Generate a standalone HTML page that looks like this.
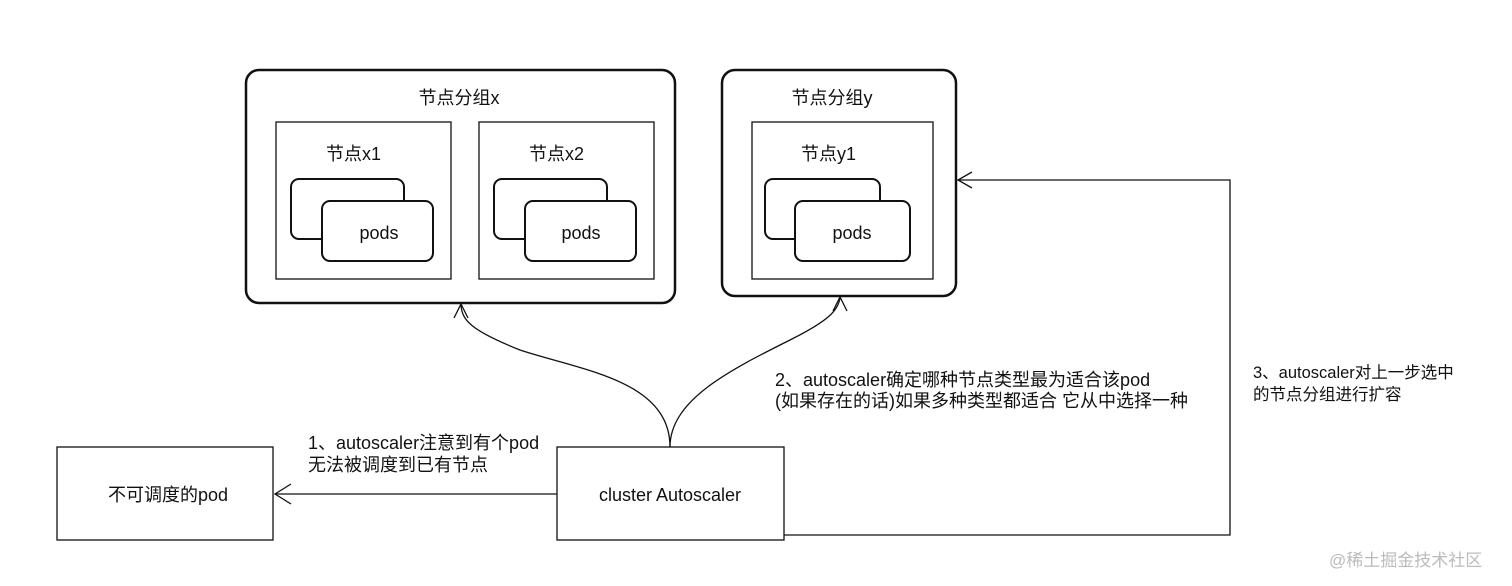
<!DOCTYPE html>
<html><head><meta charset="utf-8"><style>
html,body{margin:0;padding:0;background:#fff;width:1512px;height:586px;overflow:hidden}
svg text{font-family:"Liberation Sans","Noto Sans CJK SC",sans-serif;fill:#111}
</style></head><body>
<svg width="1512" height="586" viewBox="0 0 1512 586" xmlns="http://www.w3.org/2000/svg">
<g fill="#fff" stroke="#111">
<rect x="246" y="70" width="429" height="233" rx="13" stroke-width="2.5"/>
<rect x="276" y="122" width="175" height="157" stroke-width="1.3"/>
<rect x="479" y="122" width="175" height="157" stroke-width="1.3"/>
<rect x="291" y="179" width="113" height="60" rx="8" stroke-width="2"/>
<rect x="322" y="201" width="111" height="60" rx="8" stroke-width="2"/>
<rect x="494" y="179" width="113" height="60" rx="8" stroke-width="2"/>
<rect x="525" y="201" width="111" height="60" rx="8" stroke-width="2"/>
<rect x="722" y="70" width="234" height="226" rx="13" stroke-width="2.5"/>
<rect x="752" y="122" width="181" height="157" stroke-width="1.3"/>
<rect x="765" y="179" width="115" height="60" rx="8" stroke-width="2"/>
<rect x="795" y="201" width="115" height="60" rx="8" stroke-width="2"/>
<rect x="57" y="447" width="216" height="93" stroke-width="1.3"/>
<rect x="557" y="447" width="227" height="93" stroke-width="1.3"/>
</g>
<g fill="none" stroke="#111" stroke-width="1.3">
<path d="M557 494 H275"/>
<path d="M291 484 L275 494 L291 504"/>
<path d="M784 535 H1230 V180 H958"/>
<path d="M972 172 L958 180 L972 188"/>
<path d="M670 447 C670 380 580 370 520 350 C470 330 462 320 461 305"/>
<path d="M454 318 L461 304 L468 318"/>
<path d="M670 447 C670 400 730 370 790 340 C830 320 838 310 840 298"/>
<path d="M833 311 L840 297 L847 311"/>
</g>
<g font-size="18">
<text x="459" y="104" text-anchor="middle">节点分组x</text>
<text x="326" y="160">节点x1</text>
<text x="529" y="160">节点x2</text>
<text x="379" y="239" text-anchor="middle">pods</text>
<text x="581" y="239" text-anchor="middle">pods</text>
<text x="832" y="104" text-anchor="middle">节点分组y</text>
<text x="801" y="160">节点y1</text>
<text x="852" y="239" text-anchor="middle">pods</text>
<text x="168" y="501" text-anchor="middle">不可调度的pod</text>
<text x="670" y="501" text-anchor="middle">cluster Autoscaler</text>
<text x="308" y="449">1、autoscaler注意到有个pod</text>
<text x="308" y="471">无法被调度到已有节点</text>
<text x="775" y="386">2、autoscaler确定哪种节点类型最为适合该pod</text>
<text x="775" y="407">(如果存在的话)如果多种类型都适合 它从中选择一种</text>
</g>
<g font-size="16.5">
<text x="1253" y="378">3、autoscaler对上一步选中</text>
<text x="1253" y="400">的节点分组进行扩容</text>
</g>
<text x="1329" y="566" font-size="17" style="fill:#bbb">@稀土掘金技术社区</text>
</svg>
</body></html>
